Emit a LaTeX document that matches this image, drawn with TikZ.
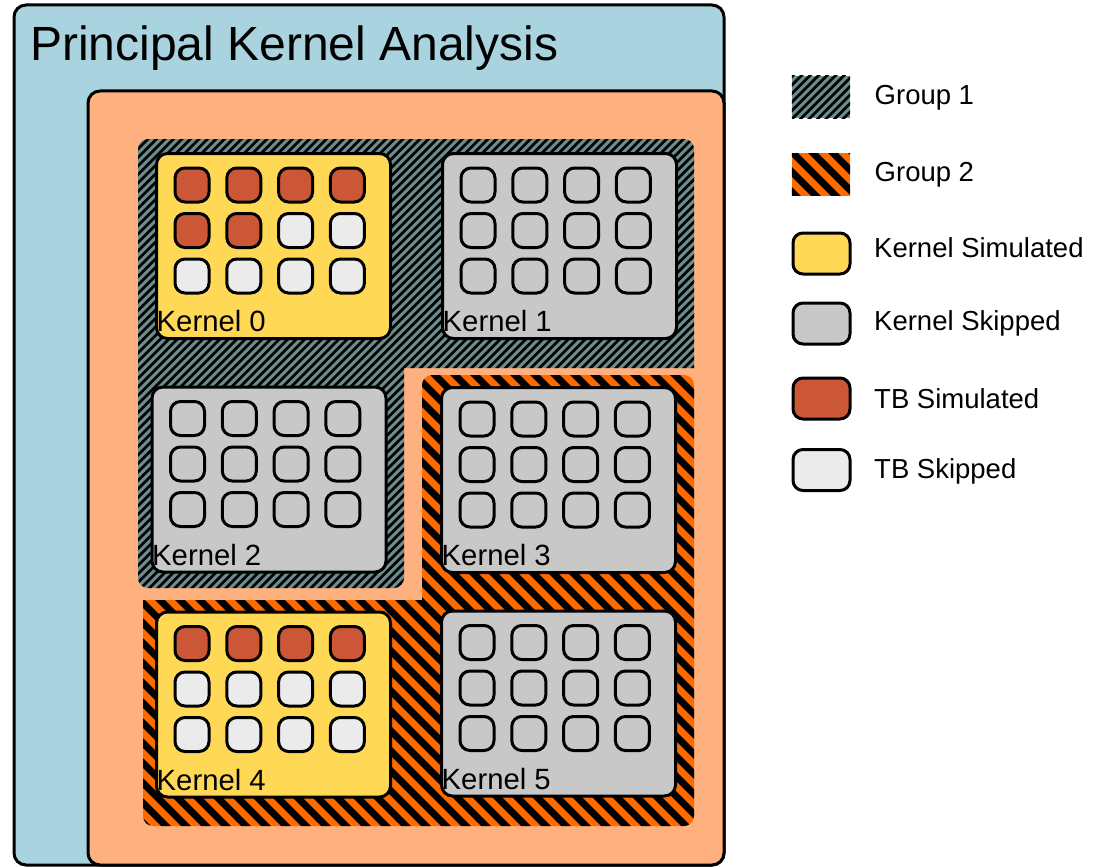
\documentclass[tikz,border=0pt]{standalone}
\usepackage{fontspec}
\setmainfont{Liberation Sans}

\definecolor{pkablue}{HTML}{A9D3DE}
\definecolor{pkaorange}{HTML}{FFB07F}
\definecolor{grponebase}{HTML}{6C8C8C}
\definecolor{grptwobase}{HTML}{FF6A00}
\definecolor{ksimcol}{HTML}{FFD955}
\definecolor{kskipcol}{HTML}{C8C8C8}
\definecolor{tbsimcol}{HTML}{CC5736}
\definecolor{tbskipcol}{HTML}{EBEBEB}

% 3x4 grid of thread blocks inside kernel #1; the first #2 blocks are simulated,
% the remaining ones are filled with #3
\newcommand\tbgrid[3]{%
  \foreach \r in {0,1,2}{%
    \foreach \c in {0,...,3}{%
      \pgfmathtruncatemacro\idx{4*\r+\c}%
      \ifnum\idx<#2\relax\def\tbcol{tbsimcol}\else\def\tbcol{#3}\fi
      \node[tb, fill=\tbcol] (#1-\r-\c)
        at ([xshift={-81.5pt+51.8pt*\c}, yshift={61pt-45.5pt*\r}]#1.center) {};
    }%
  }%
}

\begin{document}
\begin{tikzpicture}[x=1pt, y=-1pt,
  panel/.style={draw=black, line width=3pt, rounded corners=12pt},
  kernel/.style={draw=black, line width=3pt, rounded corners=11pt,
    minimum width=234pt, minimum height=185pt, inner sep=0pt},
  ksim/.style={kernel, fill=ksimcol},
  kskip/.style={kernel, fill=kskipcol},
  tb/.style={draw=black, line width=3pt, rounded corners=10pt,
    minimum size=34pt, inner sep=0pt},
  klabel/.style={anchor=base west, inner sep=0pt, font=\fontsize{29.3}{32}\selectfont},
  legtext/.style={anchor=base west, inner sep=0pt, font=\fontsize{27.5}{30}\selectfont},
  legbox/.style={draw=black, line width=3pt, rounded corners=10pt,
    minimum width=57pt, minimum height=41pt, inner sep=0pt},
  swatch/.style={minimum width=58pt, minimum height=42pt, inner sep=0pt},
  hatchone/.style={line width=2.8pt, black},
  hatchtwo/.style={line width=7pt, black}
]
\useasboundingbox (0,0) rectangle (1093,867);

% outer panels
\draw[panel, fill=pkablue] (14,5) rectangle (724,865);
\node[anchor=base west, inner sep=0pt, font=\fontsize{48}{52}\selectfont]
  (title) at (30,61) {Principal Kernel Analysis};
\draw[panel, fill=pkaorange] (88,91) rectangle (724,865);

% group 1 region (fine hatching)
\begin{scope}
  \clip[rounded corners=10pt] (138,139) rectangle (694,368)
        (138,139) rectangle (404,588)
        [sharp corners] (670,345) rectangle (694,368);
  \fill[grponebase] (130,130) rectangle (700,600);
  \foreach \c in {270,278.5,...,1080}
    \draw[hatchone] (\c,0) -- (\c-900,900);
\end{scope}

% group 2 region (wide hatching)
\begin{scope}
  \clip[rounded corners=10pt] (422,375) rectangle (694,826)
        (143,600) rectangle (694,826)
        [sharp corners] (143,600) rectangle (166,622);
  \fill[grptwobase] (130,370) rectangle (700,830);
  \foreach \c in {-700,-680,...,340}
    \draw[hatchtwo] (\c,0) -- (\c+900,900);
\end{scope}

% kernels
\node[ksim]  (k0) at (273.5,246) {};
\node[kskip] (k1) at (559.5,246) {};
\node[kskip] (k2) at (269,479.5) {};
\node[kskip] (k3) at (558.5,480) {};
\node[ksim]  (k4) at (273.5,704.5) {};
\node[kskip] (k5) at (558.5,703.5) {};

\tbgrid{k0}{6}{tbskipcol}
\tbgrid{k1}{0}{kskipcol}
\tbgrid{k2}{0}{kskipcol}
\tbgrid{k3}{0}{kskipcol}
\tbgrid{k4}{4}{tbskipcol}
\tbgrid{k5}{0}{kskipcol}

\foreach \k/\t in {k0/Kernel 0, k1/Kernel 1, k2/Kernel 2, k3/Kernel 3, k4/Kernel 4, k5/Kernel 5}
  \node[klabel] (\k-label) at ([xshift=1.5pt, yshift=8.5pt]\k.south west) {\t};

% legend
\node[swatch] (lg1) at (821,97) {};
\begin{scope}
  \clip (lg1.north west) rectangle (lg1.south east);
  \fill[grponebase] (lg1.north west) rectangle (lg1.south east);
  \foreach \c in {860,868.5,...,980}
    \draw[hatchone] (\c,0) -- (\c-900,900);
\end{scope}
\node[swatch] (lg2) at (821,174.5) {};
\begin{scope}
  \clip (lg2.north west) rectangle (lg2.south east);
  \fill[grptwobase] (lg2.north west) rectangle (lg2.south east);
  \foreach \c in {580,600,...,720}
    \draw[hatchtwo] (\c,0) -- (\c+900,900);
\end{scope}
\node[legbox, fill=ksimcol]   (lks) at (821.5,253.5) {};
\node[legbox, fill=kskipcol]  (lkk) at (821.5,323.5) {};
\node[legbox, fill=tbsimcol]  (lts) at (821.5,398.5) {};
\node[legbox, fill=tbskipcol] (ltk) at (821.5,470) {};

\node[legtext] (lg1-text) at (874.5,105) {Group 1};
\node[legtext] (lg2-text) at (874.5,181.5) {Group 2};
\node[legtext] (lks-text) at (874,257.5) {Kernel Simulated};
\node[legtext] (lkk-text) at (874,330) {Kernel Skipped};
\node[legtext] (lts-text) at (874,408) {TB Simulated};
\node[legtext] (ltk-text) at (874,478) {TB Skipped};
\end{tikzpicture}
\end{document}
